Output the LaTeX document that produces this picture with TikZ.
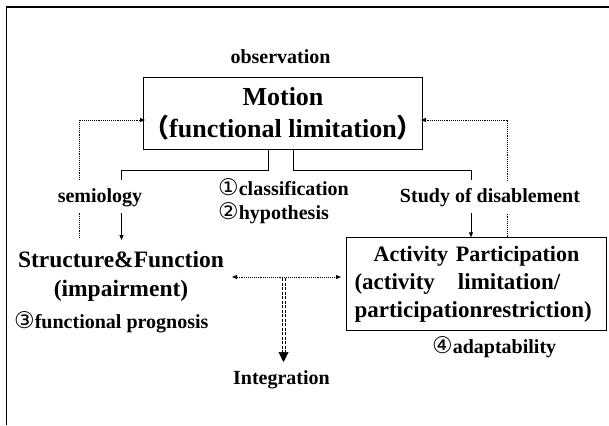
\documentclass[tikz,border=0pt]{standalone}
\usepackage{fontspec}
\setmainfont{Liberation Serif}
\newfontfamily\circfont{DejaVu Sans}
\newfontfamily\cjk{Noto Sans CJK SC}
\usetikzlibrary{arrows.meta}
\newcommand{\cnum}[1]{{\circfont\mdseries\fontsize{23}{24}\selectfont #1}}

\begin{document}
\begin{tikzpicture}[x=1pt,y=-1pt,
    tip/.style={-{Triangle[width=4pt,length=5pt]}},
    fb/.style={densely dotted,line width=0.9pt},
    dsh/.style={line width=0.7pt,dash pattern=on 3pt off 1.5pt},
    lbl/.style={inner sep=0pt,font=\fontsize{20}{24}\selectfont\bfseries}]

        \useasboundingbox (0,0) rectangle (609,425);
        \draw[line width=1.2pt] (6.6,425) -- (6.6,7) -- (609,7);

        \begin{scope}[every node/.style={draw,line width=1pt,font=\bfseries}]
          \node[minimum width=276pt,minimum height=71pt,inner sep=0pt,align=center,
                font=\fontsize{26}{32}\selectfont\bfseries] (mot) at (283,113.5)
                {Motion\\{\cjk （}functional limitation{\cjk ）}};
          \node[minimum width=260pt,minimum height=93pt,inner xsep=8pt,inner ysep=0pt,
                text width=244pt,align=left,
                font=\fontsize{23}{28}\selectfont\bfseries] (act) at (476.5,284.3)
                {\makebox[\linewidth][c]{\fontsize{22}{28}\selectfont Activity Participation}\\
                 (activity\ \ \ limitation/\\participationrestriction)};
        \end{scope}

        \begin{scope}[every node/.style={lbl}]
          \node (obs)  at (280.5,57)  {observation};
          \node (sem)  at (100,198)   {semiology};
          \node (stud) at (490,198)   {Study of disablement};
          \node[align=left,anchor=west] (cls) at (218,201)
                {\cnum{①}classification\\\cnum{②}hypothesis};
          \node[align=center,font=\fontsize{23.5}{29}\selectfont\bfseries] (sf) at (121,276)
                {Structure\&Function\\(impairment)};
          \node[anchor=west] (prog) at (14,322) {\cnum{③}functional prognosis};
          \node[anchor=west] (adap) at (432,347) {\cnum{④}adaptability};
          \node (integ) at (281.5,380) {Integration};
        \end{scope}

        % solid branches
        \coordinate (mSL) at (268,149);
        \coordinate (mSR) at (293,149);
        \coordinate (semTop) at (121.5,180);
        \coordinate (semBot) at (121.5,213);
        \coordinate (sfTop) at (121.5,240);
        \coordinate (sdTop) at (471,180);
        \coordinate (sdBot) at (471,213);
        \draw[line width=0.9pt] (mSL) -- ++(0,21) -| (semTop);
        \draw[line width=0.9pt] (mSR) -- ++(0,21) -| (sdTop);
        \path (semBot) edge[draw,line width=0.8pt,tip] (sfTop);
        \path (sdBot) edge[draw,line width=0.8pt,tip] (act.north -| sdBot);

        % feedback
        \coordinate (fbL1) at (79.6,180);
        \coordinate (fbL2) at (79.6,213);
        \coordinate (fbL3) at (79.6,238);
        \coordinate (fbLin) at (145,120);
        \coordinate (fbR1) at (507,181);
        \coordinate (fbR2) at (507,213);
        \coordinate (fbRin) at (421,120);
        \draw[fb,tip] (fbL1) |- (fbLin);
        \draw[fb] (fbL3) -- (fbL2);
        \draw[fb,tip] (fbR1) |- (fbRin);
        \draw[fb] (act.north -| fbR2) -- (fbR2);

        % integration
        \coordinate (hubL) at (232,277);
        \coordinate (hubR) at (341,277);
        \coordinate (hub) at (283.5,278);
        \coordinate (intEnd) at (283.5,352);
        \coordinate (intTip) at (283.5,362);
        \draw[fb,{Triangle[width=4pt,length=5pt]}-{Triangle[width=4pt,length=5pt]}] (hubL) -- (hubR);
        \draw[dsh] ([xshift=-1.6pt]hub) -- ([xshift=-1.6pt]intEnd);
        \draw[dsh] ([xshift=1.6pt]hub) -- ([xshift=1.6pt]intEnd);
        \draw[-{Triangle[width=10pt,length=10pt]},line width=0.6pt] (intEnd) -- (intTip);

      \end{tikzpicture}
\end{document}
